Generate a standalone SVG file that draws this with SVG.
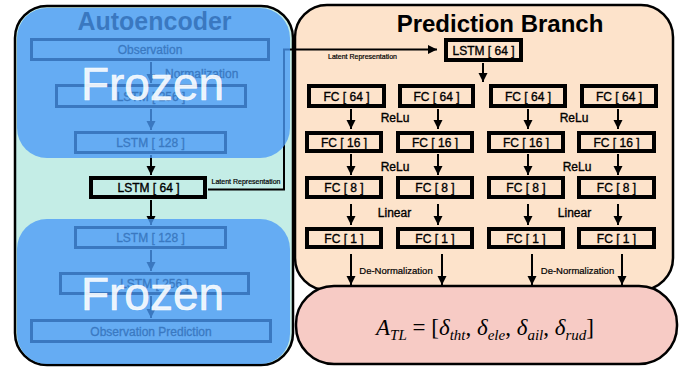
<svg xmlns="http://www.w3.org/2000/svg" width="691" height="369" viewBox="0 0 691 369">
<defs>
<marker id="ah" markerUnits="userSpaceOnUse" markerWidth="10" markerHeight="10" refX="9" refY="4.5" orient="auto">
<path d="M0,0 L9,4.5 L0,9 z" fill="#000"/>
</marker>
<style>
.lbl{font-family:"Liberation Sans",Arial,sans-serif;font-size:12px;fill:#000;stroke:#000;stroke-width:0.35;text-anchor:middle}
.sm{font-family:"Liberation Sans",Arial,sans-serif;fill:#000;stroke:#000;stroke-width:0.2;text-anchor:middle}
.ttl{font-family:"Liberation Sans",Arial,sans-serif;fill:#000;font-weight:bold;text-anchor:middle}
.box{fill:none;stroke:#000;stroke-width:4}
.abox{fill:none;stroke:#000;stroke-width:3}
.con{fill:none;stroke:#000;stroke-width:2;marker-end:url(#ah)}
.ov{fill:#4a9af6;opacity:0.78}
.frz{font-family:"Liberation Sans",Arial,sans-serif;font-size:46px;fill:#fff;fill-opacity:0.9;stroke:#fff;stroke-opacity:0.9;stroke-width:0.6;text-anchor:middle}
</style>
</defs>

<g id="autoencoder-panel">
<rect x="15" y="6" width="278" height="359" rx="32" fill="#c4ede6" stroke="#000" stroke-width="2.5"/>
<text x="154.5" y="30" class="ttl" font-size="25">Autoencoder</text>
</g>
<g id="prediction-panel">
<rect x="295" y="5" width="378" height="285" rx="32" fill="#fde3cb" stroke="#000" stroke-width="2.5"/>
<text x="500" y="32" class="ttl" font-size="24">Prediction Branch</text>
</g>
<g id="output">
<rect x="296" y="286" width="381" height="78" rx="38" fill="#f7cbc5" stroke="#000" stroke-width="2.5"/>
<text x="485" y="335" font-family="Liberation Serif,'Times New Roman',serif" font-size="23" text-anchor="middle" fill="#000"><tspan font-style="italic">A</tspan><tspan font-style="italic" font-size="15" dy="5">TL</tspan><tspan dy="-5"> = [</tspan><tspan font-style="italic">δ</tspan><tspan font-style="italic" font-size="15" dy="5">tht</tspan><tspan dy="-5">, </tspan><tspan font-style="italic">δ</tspan><tspan font-style="italic" font-size="15" dy="5">ele</tspan><tspan dy="-5">, </tspan><tspan font-style="italic">δ</tspan><tspan font-style="italic" font-size="15" dy="5">ail</tspan><tspan dy="-5">, </tspan><tspan font-style="italic">δ</tspan><tspan font-style="italic" font-size="15" dy="5">rud</tspan><tspan dy="-5">]</tspan></text>
</g>

<g id="connectors">
<line class="con" x1="151" y1="62" x2="151" y2="83"/>
<line class="con" x1="151" y1="109" x2="151" y2="130"/>
<line class="con" x1="151" y1="155" x2="151" y2="175"/>
<line class="con" x1="151" y1="200" x2="151" y2="225"/>
<line class="con" x1="151" y1="250" x2="151" y2="271"/>
<line class="con" x1="151" y1="296" x2="151" y2="318"/>
<polyline class="con" points="208,189.5 284,189.5 284,49.5 437,49.5"/>
<line class="con" x1="483" y1="63" x2="483" y2="82"/>
<line class="con" x1="351" y1="109" x2="351" y2="129"/>
<line class="con" x1="438" y1="109" x2="438" y2="129"/>
<line class="con" x1="528" y1="109" x2="528" y2="129"/>
<line class="con" x1="618" y1="109" x2="618" y2="129"/>
<line class="con" x1="351" y1="154" x2="351" y2="175"/>
<line class="con" x1="438" y1="154" x2="438" y2="175"/>
<line class="con" x1="528" y1="154" x2="528" y2="175"/>
<line class="con" x1="618" y1="154" x2="618" y2="175"/>
<line class="con" x1="351" y1="204" x2="351" y2="225"/>
<line class="con" x1="438" y1="204" x2="438" y2="225"/>
<line class="con" x1="528" y1="204" x2="528" y2="225"/>
<line class="con" x1="618" y1="204" x2="618" y2="225"/>
<line class="con" x1="351" y1="254" x2="351" y2="285"/>
<line class="con" x1="442" y1="254" x2="442" y2="285"/>
<line class="con" x1="532" y1="254" x2="532" y2="285"/>
<line class="con" x1="622" y1="254" x2="622" y2="285"/>
<text x="165" y="78" class="lbl" style="text-anchor:start">Normalization</text>
<text x="246" y="183.5" class="sm" font-size="7">Latent Representation</text>
<text x="362.5" y="58.5" class="sm" font-size="7">Latent Representation</text>
<text x="395" y="122" class="lbl">ReLu</text>
<text x="574" y="122" class="lbl">ReLu</text>
<text x="395" y="171" class="lbl">ReLu</text>
<text x="577" y="171" class="lbl">ReLu</text>
<text x="394.5" y="217" class="lbl">Linear</text>
<text x="574.5" y="217" class="lbl">Linear</text>
<text x="396" y="273.5" class="sm" font-size="9.5">De-Normalization</text>
<text x="577.5" y="273.5" class="sm" font-size="9.5">De-Normalization</text>
</g>

<g id="ae-observation"><rect class="abox" x="31.5" y="39.5" width="237" height="20"/><text x="150" y="54" class="lbl">Observation</text></g>
<g id="ae-lstm256"><rect class="abox" x="56.5" y="85.5" width="189" height="21"/><text x="151" y="101" class="lbl">LSTM [ 256 ]</text></g>
<g id="ae-lstm128"><rect class="abox" x="75.5" y="132.5" width="150" height="20"/><text x="150.5" y="147" class="lbl">LSTM [ 128 ]</text></g>
<g id="ae-lstm64"><rect class="box" x="91" y="178" width="114" height="19"/><text x="148.5" y="192" class="lbl">LSTM [ 64 ]</text></g>
<g id="ae-lstm128b"><rect class="abox" x="75.5" y="227.5" width="150" height="20"/><text x="150.5" y="242" class="lbl">LSTM [ 128 ]</text></g>
<g id="ae-lstm256b"><rect class="abox" x="60.5" y="273.5" width="188" height="20"/><text x="154.5" y="288" class="lbl">LSTM [ 256 ]</text></g>
<g id="ae-obspred"><rect class="abox" x="31.5" y="320.5" width="239" height="21"/><text x="151" y="335.5" class="lbl">Observation Prediction</text></g>

<g id="pb-lstm64"><rect class="box" x="446" y="40" width="75" height="20"/><text x="483.5" y="54.5" class="lbl">LSTM [ 64 ]</text></g>
<g id="fc64-1"><rect class="box" x="309" y="86" width="75" height="20"/><text x="346.5" y="100.5" class="lbl">FC [ 64 ]</text></g>
<g id="fc64-2"><rect class="box" x="400" y="86" width="73" height="20"/><text x="436.5" y="100.5" class="lbl">FC [ 64 ]</text></g>
<g id="fc64-3"><rect class="box" x="491" y="86" width="74" height="20"/><text x="528" y="100.5" class="lbl">FC [ 64 ]</text></g>
<g id="fc64-4"><rect class="box" x="582" y="86" width="74" height="20"/><text x="619" y="100.5" class="lbl">FC [ 64 ]</text></g>
<g id="fc16-1"><rect class="box" x="307" y="133" width="74" height="18"/><text x="344" y="146.5" class="lbl">FC [ 16 ]</text></g>
<g id="fc16-2"><rect class="box" x="398" y="133" width="74" height="18"/><text x="435" y="146.5" class="lbl">FC [ 16 ]</text></g>
<g id="fc16-3"><rect class="box" x="489" y="133" width="74" height="18"/><text x="526" y="146.5" class="lbl">FC [ 16 ]</text></g>
<g id="fc16-4"><rect class="box" x="579" y="133" width="75" height="18"/><text x="616.5" y="146.5" class="lbl">FC [ 16 ]</text></g>
<g id="fc8-1"><rect class="box" x="307" y="178" width="74" height="19"/><text x="344" y="192" class="lbl">FC [ 8 ]</text></g>
<g id="fc8-2"><rect class="box" x="398" y="178" width="74" height="19"/><text x="435" y="192" class="lbl">FC [ 8 ]</text></g>
<g id="fc8-3"><rect class="box" x="489" y="178" width="74" height="19"/><text x="526" y="192" class="lbl">FC [ 8 ]</text></g>
<g id="fc8-4"><rect class="box" x="579" y="178" width="75" height="19"/><text x="616.5" y="192" class="lbl">FC [ 8 ]</text></g>
<g id="fc1-1"><rect class="box" x="307" y="229" width="74" height="18"/><text x="344" y="242.5" class="lbl">FC [ 1 ]</text></g>
<g id="fc1-2"><rect class="box" x="398" y="229" width="74" height="18"/><text x="435" y="242.5" class="lbl">FC [ 1 ]</text></g>
<g id="fc1-3"><rect class="box" x="489" y="229" width="74" height="18"/><text x="526" y="242.5" class="lbl">FC [ 1 ]</text></g>
<g id="fc1-4"><rect class="box" x="579" y="229" width="75" height="18"/><text x="616.5" y="242.5" class="lbl">FC [ 1 ]</text></g>

<g id="frozen-encoder">
<rect class="ov" x="17" y="8" width="273" height="150" rx="30"/>
<text x="152.5" y="100" class="frz">Frozen</text>
</g>
<g id="frozen-decoder">
<rect class="ov" x="17" y="219" width="273" height="145" rx="30"/>
<text x="152.5" y="310" class="frz">Frozen</text>
</g>
</svg>
